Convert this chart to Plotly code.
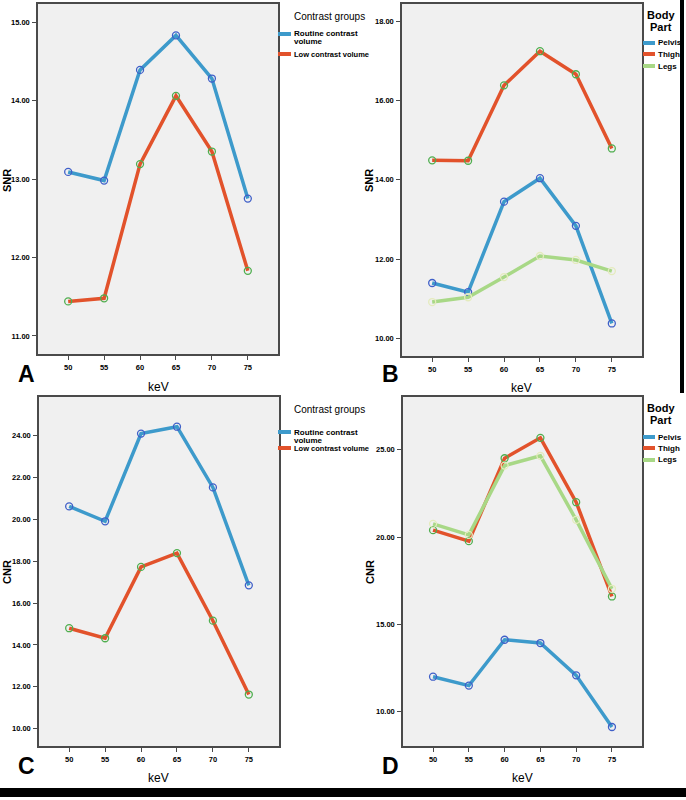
import plotly.graph_objects as go

W, H = 686, 800

kev = [50, 55, 60, 65, 70, 75]
kev_ticks = [50, 55, 60, 65, 70, 75]

snr_routine = [13.09, 12.98, 14.39, 14.83, 14.28, 12.75]
snr_low = [11.44, 11.48, 13.19, 14.06, 13.35, 11.83]
snr_pelvis = [11.40, 11.17, 13.45, 14.04, 12.84, 10.38]
snr_thigh = [14.49, 14.48, 16.38, 17.24, 16.66, 14.79]
snr_legs = [10.92, 11.04, 11.55, 12.08, 11.98, 11.70]
cnr_routine = [20.62, 19.91, 24.10, 24.43, 21.53, 16.85]
cnr_low = [14.80, 14.32, 17.73, 18.39, 15.16, 11.63]
cnr_pelvis = [12.00, 11.49, 14.12, 13.93, 12.08, 9.12]
cnr_thigh = [20.40, 19.77, 24.52, 25.69, 22.00, 16.60]
cnr_legs = [20.76, 20.13, 24.10, 24.66, 20.99, 17.04]

snr_a_ticks = [11, 12, 13, 14, 15]
snr_b_ticks = [10, 12, 14, 16, 18]
cnr_c_ticks = [10, 12, 14, 16, 18, 20, 22, 24]
cnr_d_ticks = [10, 15, 20, 25]

group_names = ["Routine contrast<br>volume", "Low contrast volume"]
part_names = ["Pelvis", "Thigh", "Legs"]

BLUE = "#3d9acb"
RED = "#e2522b"
GREEN = "#a8d886"
MK_BLUE = "#3f5fc8"
MK_GREEN = "#4fae4f"
MK_PALE = "#e4ebbd"

FONT = "Liberation Sans, Arial, sans-serif"


def px(x):
    return x / W


def py(y):
    return 1 - y / H


fig = go.Figure()

panels = [
    ("", (38, 278), (4, 354), [10.77, 15.23], snr_a_ticks),
    ("2", (402, 642), (4, 356), [9.56, 18.43], snr_b_ticks),
    ("3", (39, 279), (397, 746), [9.17, 25.85], cnr_c_ticks),
    ("4", (403, 642), (397, 746), [8.03, 28.03], cnr_d_ticks),
]

for suf, (x0, x1), (y0, y1), yr, yt in panels:
    common = dict(showline=True, mirror=True, linecolor="#4a4a4a", linewidth=1.5,
                  showgrid=False, zeroline=False, ticks="outside", ticklen=4,
                  tickcolor="#4a4a4a", tickwidth=1.2, ticklabelstandoff=1,
                  tickfont=dict(family=FONT, size=7.5, color="black", weight="bold"))
    fig.layout["xaxis" + suf] = dict(domain=[px(x0), px(x1)], range=[45.8, 79.2],
                                     tickvals=kev_ticks, anchor="y" + suf, **common)
    fig.layout["yaxis" + suf] = dict(domain=[py(y1), py(y0)], range=yr, tickvals=yt,
                                     tickformat=".2f", anchor="x" + suf, **common)


def add_series(y, color, mk, xa, ya, name):
    fig.add_trace(go.Scatter(
        x=kev, y=y, mode="lines+markers", name=name, showlegend=False,
        line=dict(color=color, width=3.5),
        marker=dict(symbol="circle-open", size=7, color=mk, line=dict(width=1.3, color=mk)),
        xaxis=xa, yaxis=ya))


add_series(snr_routine, BLUE, MK_BLUE, "x", "y", group_names[0])
add_series(snr_low, RED, MK_GREEN, "x", "y", group_names[1])
add_series(snr_pelvis, BLUE, MK_BLUE, "x2", "y2", part_names[0])
add_series(snr_thigh, RED, MK_GREEN, "x2", "y2", part_names[1])
add_series(snr_legs, GREEN, MK_PALE, "x2", "y2", part_names[2])
add_series(cnr_routine, BLUE, MK_BLUE, "x3", "y3", group_names[0])
add_series(cnr_low, RED, MK_GREEN, "x3", "y3", group_names[1])
add_series(cnr_pelvis, BLUE, MK_BLUE, "x4", "y4", part_names[0])
add_series(cnr_thigh, RED, MK_GREEN, "x4", "y4", part_names[1])
add_series(cnr_legs, GREEN, MK_PALE, "x4", "y4", part_names[2])

ann = []
shapes = []


def text(x, y, s, size, weight="normal", xanchor="center", angle=0):
    ann.append(dict(x=px(x), y=py(y), xref="paper", yref="paper", text=s, showarrow=False,
                    xanchor=xanchor, yanchor="middle", textangle=angle,
                    font=dict(family=FONT, size=size, color="black", weight=weight)))


# axis titles
for x, y, s in [(7, 180, "SNR"), (369, 180, "SNR"), (7, 572, "CNR"), (370, 572, "CNR")]:
    text(x, y, s, 11, weight="bold", angle=-90)
for x, y in [(158, 387), (521, 388), (158, 778), (522, 778)]:
    text(x, y, "keV", 12)
# panel letters
for x, y, s in [(26, 374, "A"), (390, 374, "B"), (26, 766, "C"), (390, 766, "D")]:
    text(x, y, s, 23, weight="bold")


def legend_line(x0, x1, y, color):
    shapes.append(dict(type="line", xref="paper", yref="paper", x0=px(x0), x1=px(x1),
                       y0=py(y), y1=py(y), line=dict(color=color, width=4)))


# Contrast groups legends (A and C)
for (ty, r1, r2, lo) in [(16, 34, 42, 54), (409, 432, 440, 448)]:
    text(292, ty, "Contrast groups", 10, xanchor="left")
    legend_line(278, 291, r1, BLUE)
    text(292, r1, "Routine contrast", 8, weight="bold", xanchor="left")
    text(292, r2, "volume", 8, weight="bold", xanchor="left")
    legend_line(278, 291, lo, RED)
    text(292, lo, group_names[1], 7.5, weight="bold", xanchor="left")

# Body part legends (B and D)
for (t1, t2, ys) in [(15, 27, (43, 54, 66)), (408, 420, (437, 448, 460))]:
    text(661, t1, "Body", 11, weight="bold")
    text(661, t2, "Part", 11, weight="bold")
    for nm, col, yy in zip(part_names, [BLUE, RED, GREEN], ys):
        legend_line(643, 655, yy, col)
        text(656, yy, nm, 8, weight="bold", xanchor="left")

# black bars
shapes.append(dict(type="rect", xref="paper", yref="paper", x0=px(680), x1=px(684),
                   y0=py(393), y1=py(0), fillcolor="black", line=dict(width=0)))
shapes.append(dict(type="rect", xref="paper", yref="paper", x0=0, x1=1,
                   y0=py(797), y1=py(788), fillcolor="black", line=dict(width=0)))

fig.update_layout(width=W, height=H, margin=dict(l=0, r=0, t=0, b=0),
                  paper_bgcolor="white", plot_bgcolor="#f0f0f0",
                  annotations=ann, shapes=shapes, showlegend=False)

fig.write_html("out.html", config={"displayModeBar": False},
               post_script="document.body.style.margin='0';document.body.style.overflow='hidden';")
